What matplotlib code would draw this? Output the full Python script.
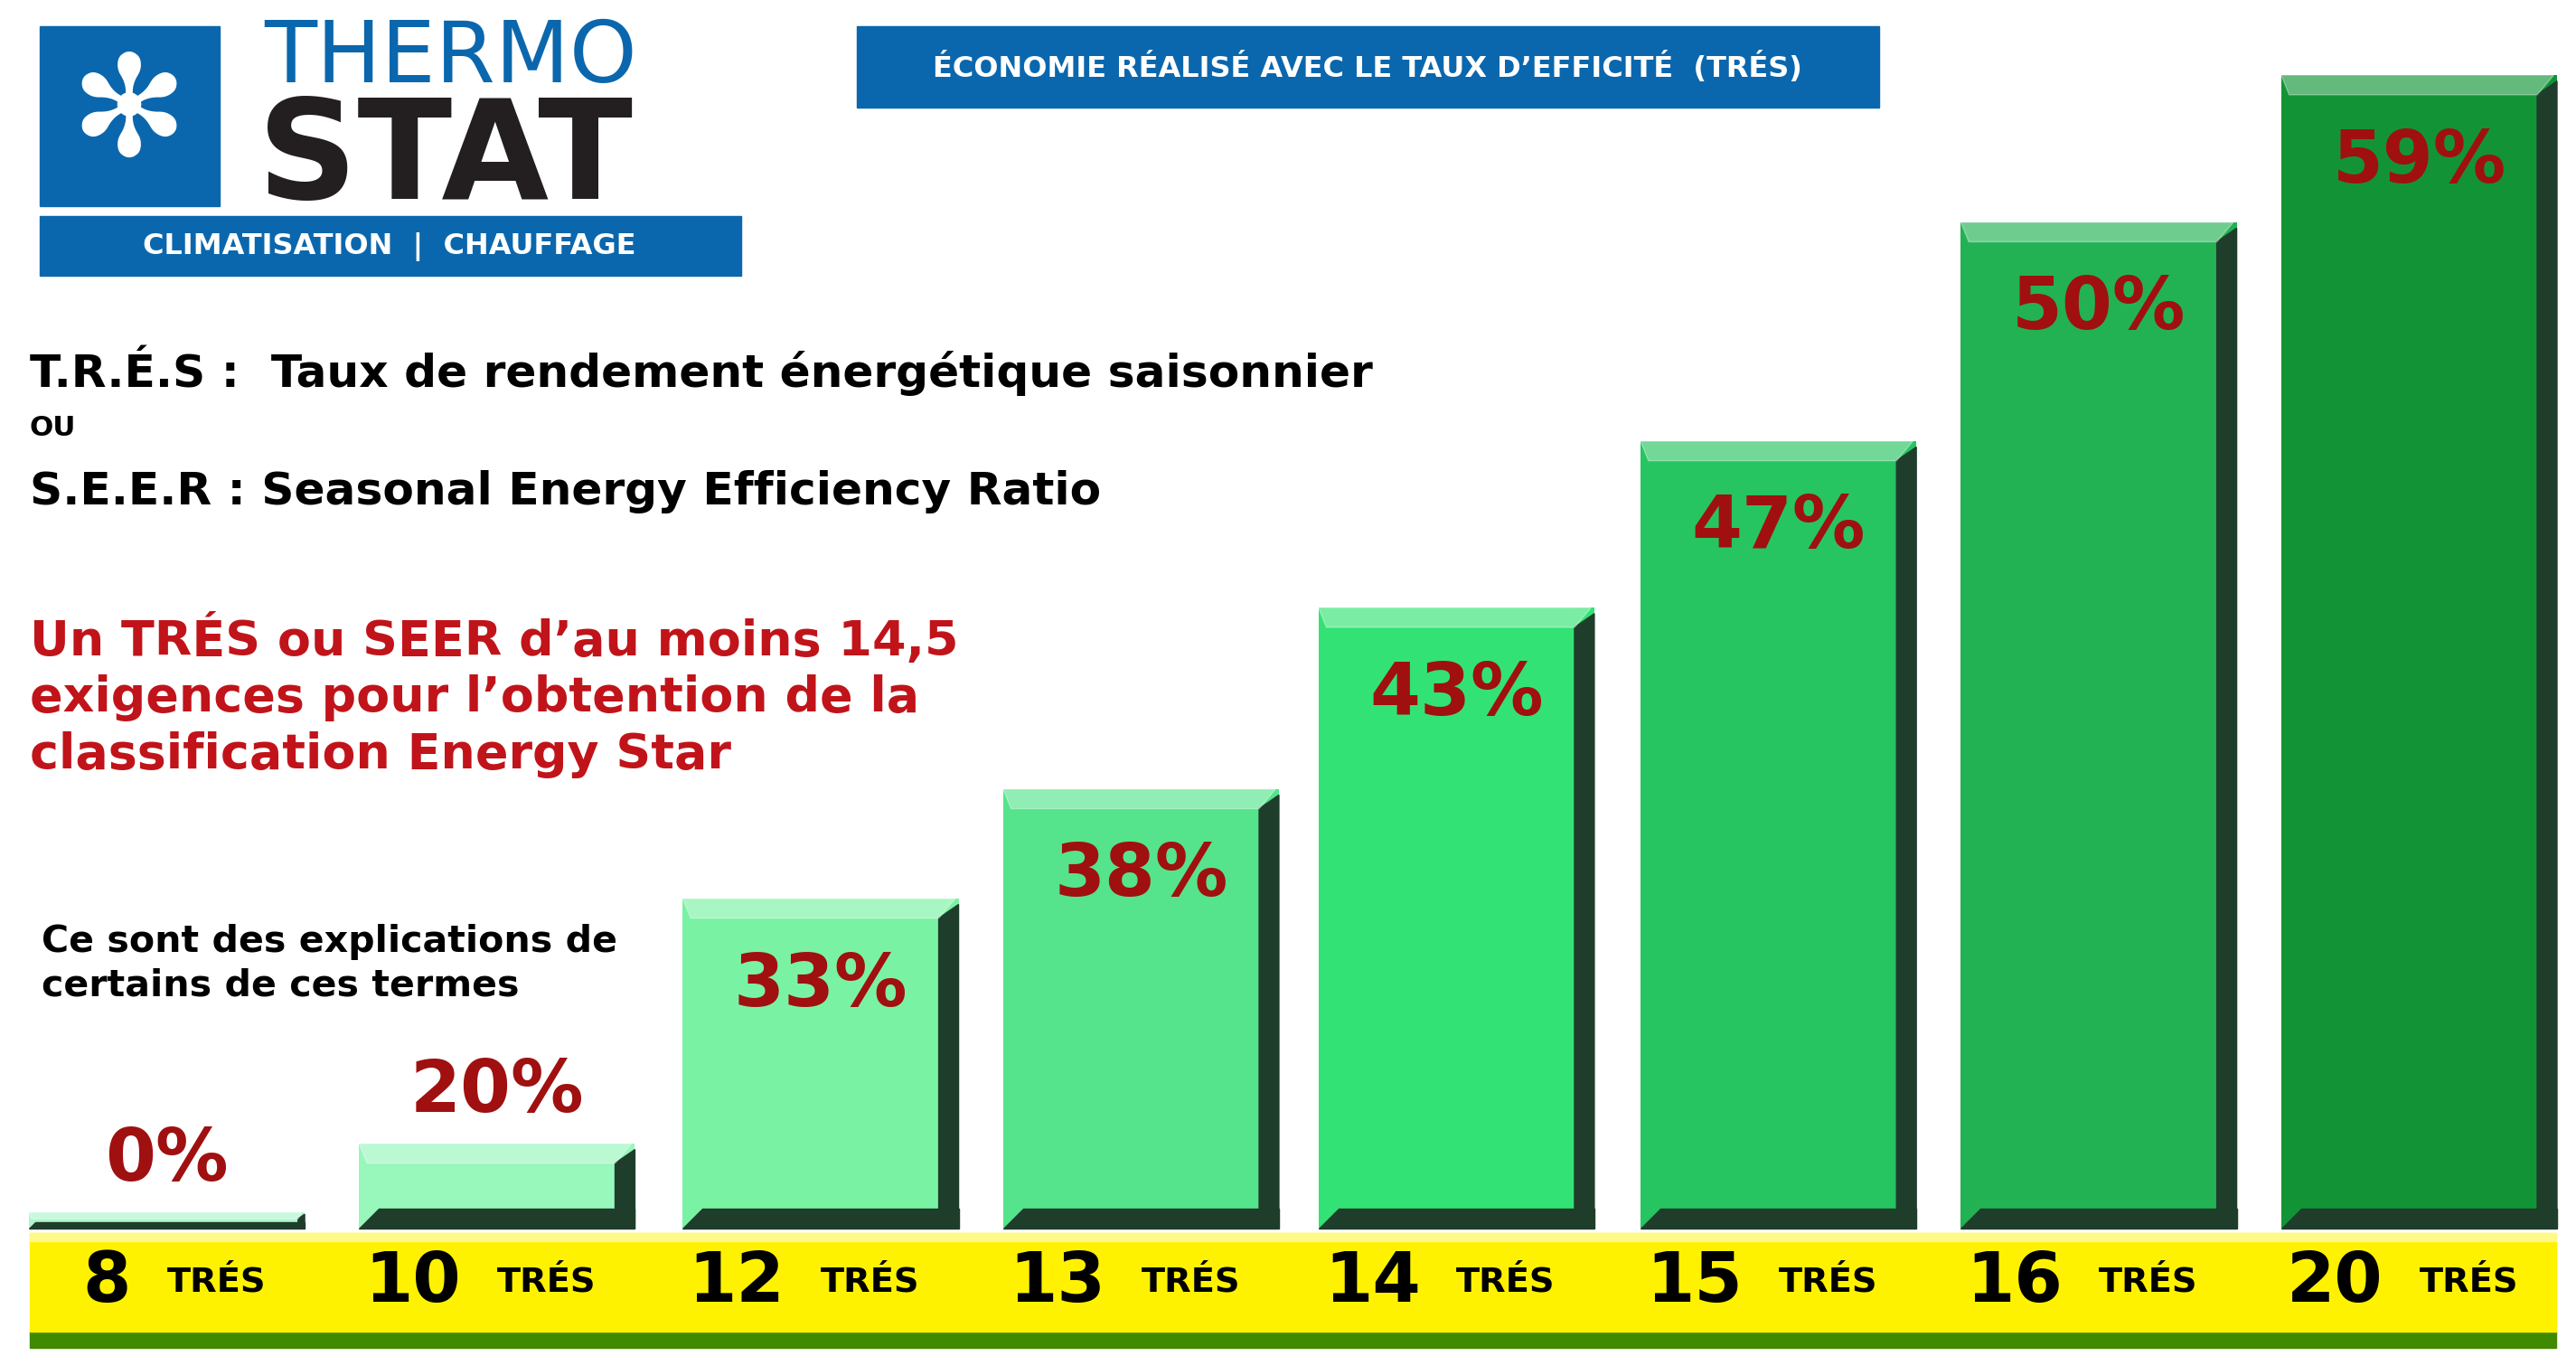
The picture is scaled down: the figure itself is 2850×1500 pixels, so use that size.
import matplotlib; matplotlib.use('Agg')
import matplotlib.pyplot as plt
from matplotlib.patches import Rectangle, Polygon

plt.rcParams.update({'font.family': ['DejaVu Sans'], 'font.weight': 'bold'})

# data
ratings = ['8', '10', '12', '13', '14', '15', '16', '20']
savings = ['0%', '20%', '33%', '38%', '43%', '47%', '50%', '59%']
# bar heights as drawn in the poster (not proportional to the savings)
heights = [10, 52, 202, 269, 380, 482, 616, 706]
colors = ['#acf7cb', '#98f7bb', '#7af2a4', '#55e48b', '#33e274', '#27c462',
          '#22b254', '#129436']

W, H = 1560, 830
fig = plt.figure(figsize=(28.5, 15), dpi=100)
ax = fig.add_axes([0, 0, 1, 1])
ax.set_xlim(0, W); ax.set_ylim(0, H); ax.axis('off')
S = 28.5 * 72 / W   # points per unit

base = H - 752
xs = [101, 301, 497, 691, 882, 1077, 1271, 1465]
bw = 167
shadow = '#1f3d2b'

# yellow floor
ax.add_patch(Rectangle((18, H - 825), 1530, 10, color='#3f8a00', zorder=1))
ax.add_patch(Rectangle((18, H - 815), 1530, 60, color='#fff200', zorder=1))
ax.add_patch(Rectangle((18, H - 760), 1530, 5, color='#fff98a', zorder=2))

bars = ax.bar(xs, heights, width=bw, bottom=base, color=colors, zorder=3)
for b, h, c, s, r in zip(bars, heights, colors, savings, ratings):
    x0 = b.get_x(); x1 = x0 + bw; top = base + h
    d = min(12, h * 0.4)
    # dark right side and bottom
    ax.add_patch(Polygon([(x1 - d, top - d), (x1, top - d * 0.3), (x1, base),
                          (x1 - d, base)], color=shadow, zorder=4))
    ax.add_patch(Polygon([(x0, base), (x1, base), (x1, base + d),
                          (x0 + d, base + d)], color=shadow, zorder=4))
    # light top edge
    ax.add_patch(Polygon([(x0, top), (x1 - 2, top), (x1 - d, top - d),
                          (x0 + d * 0.4, top - d)], color='white', alpha=0.35,
                         zorder=4))
    ty = top - 75 if h > 150 else top + 10
    ax.text(x0 + bw / 2, ty, s, ha='center', va='bottom', color='#a01010',
            fontsize=44 * S, fontweight='bold', zorder=6)
    ax.text(x0 + bw * 0.37, H - 785, r, ha='right', va='center', color='black',
            fontsize=42 * S, fontweight='bold', zorder=6)
    ax.text(x0 + bw * 0.5, H - 785, 'TRÉS', ha='left', va='center',
            color='black', fontsize=21 * S, fontweight='bold', zorder=6)

# logo
blue = '#0b67ad'
ax.add_patch(Rectangle((24, H - 126), 109, 110, color=blue))
ax.text(78, H - 71, '✻', ha='center', va='center', color='white',
        fontsize=85 * S)
ax.text(160, H - 36, 'THERMO', ha='left', va='center', color=blue,
        fontsize=52 * S, fontweight='normal')
ax.text(156, H - 98, 'STAT', ha='left', va='center', color='#231f20',
        fontsize=84 * S, fontweight='bold')
ax.add_patch(Rectangle((24, H - 169), 425, 37, color=blue))
ax.text(236, H - 151, 'CLIMATISATION  |  CHAUFFAGE', ha='center', va='center',
        color='white', fontsize=17.5 * S, fontweight='bold')

# title box
ax.add_patch(Rectangle((519, H - 66), 619, 50, color=blue))
ax.text(828, H - 41, 'ÉCONOMIE RÉALISÉ AVEC LE TAUX D\u2019EFFICITÉ  (TRÉS)',
        ha='center', va='center', color='white', fontsize=17.5 * S)

# explanations
ax.text(18, H - 227, 'T.R.É.S :  Taux de rendement énergétique saisonnier',
        ha='left', va='center', fontsize=27.5 * S, color='black',
        fontweight='semibold')
ax.text(18, H - 262, 'OU', ha='left', va='center', fontsize=17 * S)
ax.text(18, H - 301, 'S.E.E.R : Seasonal Energy Efficiency Ratio',
        ha='left', va='center', fontsize=27.5 * S, color='black',
        fontweight='semibold')
ax.text(18, H - 426, 'Un TRÉS ou SEER d\u2019au moins 14,5\n'
        'exigences pour l\u2019obtention de la\nclassification Energy Star',
        ha='left', va='center', fontsize=29.5 * S, color='#c0141a',
        linespacing=1.25)
ax.text(25, H - 590, 'Ce sont des explications de\ncertains de ces termes',
        ha='left', va='center', fontsize=22.5 * S, color='black',
        linespacing=1.3)

fig.savefig('out.png', dpi=100)
